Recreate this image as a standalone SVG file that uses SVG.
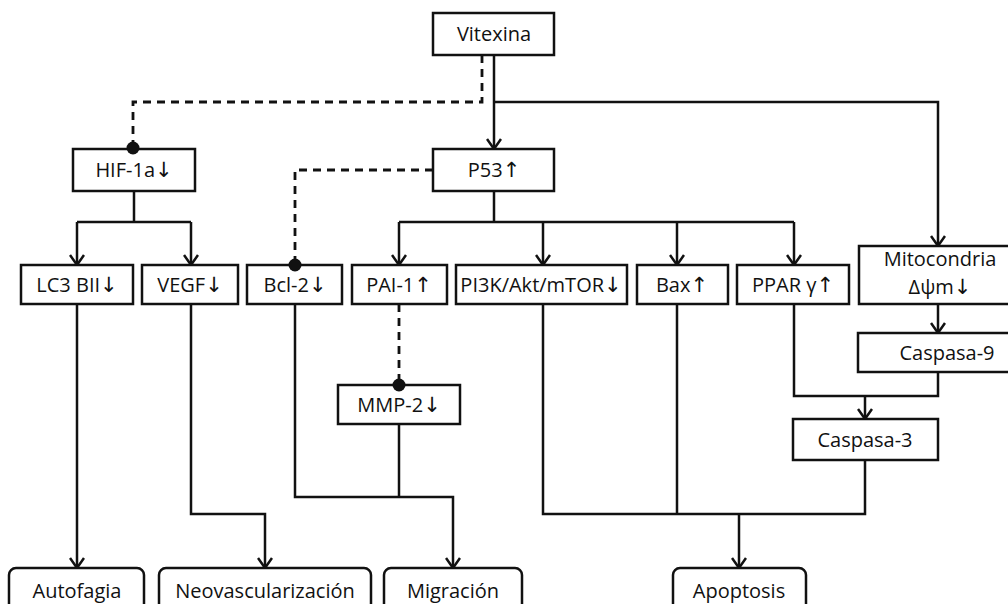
<svg xmlns="http://www.w3.org/2000/svg" width="1008" height="604" viewBox="0 0 1008 604">
<style>
.box{fill:#fff;stroke:#111;stroke-width:2.5}
.t{font-family:"Open Sans","Liberation Sans",sans-serif;font-size:20px;fill:#111;text-anchor:middle}
.ar{font-family:"DejaVu Sans",sans-serif;font-size:21px;fill:#111}
.c{fill:none;stroke:#111;stroke-width:2.5}
.a{marker-end:url(#arr)}
.d{fill:none;stroke:#111;stroke-width:2.8;stroke-dasharray:8 6}
.dot{fill:#111}
</style>
<defs>
<marker id="arr" viewBox="0 0 12 16" refX="11" refY="8" markerWidth="12" markerHeight="16" markerUnits="userSpaceOnUse" orient="auto">
<path d="M1,1 L11,8 L1,15" fill="none" stroke="#111" stroke-width="2.5"/>
</marker>
</defs>
<rect width="1008" height="604" fill="#fff"/>
<g id="vitexina"><rect class="box" x="433" y="13" width="121" height="42"/><text class="t" x="494" y="41">Vitexina</text></g>
<g id="hif"><rect class="box" x="73" y="149" width="122" height="42"/><text class="t" x="134" y="177">HIF-1a<tspan class="ar">↓</tspan></text></g>
<g id="p53"><rect class="box" x="433" y="149" width="121" height="42"/><text class="t" x="494" y="177">P53<tspan class="ar">↑</tspan></text></g>
<g id="lc3"><rect class="box" x="21" y="265" width="112" height="39"/><text class="t" x="77" y="292">LC3 BII<tspan class="ar">↓</tspan></text></g>
<g id="vegf"><rect class="box" x="142" y="265" width="96" height="39"/><text class="t" x="190" y="292">VEGF<tspan class="ar">↓</tspan></text></g>
<g id="bcl2"><rect class="box" x="247" y="265" width="95" height="39"/><text class="t" x="295" y="292">Bcl-2<tspan class="ar">↓</tspan></text></g>
<g id="pai1"><rect class="box" x="352" y="265" width="95" height="39"/><text class="t" x="399" y="292">PAI-1<tspan class="ar">↑</tspan></text></g>
<g id="pi3k"><rect class="box" x="456" y="265" width="171" height="39"/><text class="t" x="541" y="292">PI3K/Akt/mTOR<tspan class="ar">↓</tspan></text></g>
<g id="bax"><rect class="box" x="637" y="265" width="91" height="39"/><text class="t" x="682" y="292">Bax<tspan class="ar">↑</tspan></text></g>
<g id="ppar"><rect class="box" x="737" y="265" width="112" height="39"/><text class="t" x="793" y="292">PPAR γ<tspan class="ar">↑</tspan></text></g>
<g id="mito"><rect class="box" x="859" y="246" width="165" height="58"/><text class="t" x="940" y="266">Mitocondria</text><text class="t" x="940" y="294">Δψm<tspan class="ar">↓</tspan></text></g>
<g id="casp9"><rect class="box" x="858" y="333" width="165" height="39"/><text class="t" x="947" y="360">Caspasa-9</text></g>
<g id="mmp2"><rect class="box" x="338" y="385" width="122" height="39"/><text class="t" x="399" y="412">MMP-2<tspan class="ar">↓</tspan></text></g>
<g id="casp3"><rect class="box" x="793" y="419" width="145" height="41"/><text class="t" x="865" y="447">Caspasa-3</text></g>
<g id="autofagia"><rect class="box" x="9" y="568" width="135" height="50" rx="7"/><text class="t" x="77" y="598">Autofagia</text></g>
<g id="neovasc"><rect class="box" x="159" y="568" width="212" height="50" rx="7"/><text class="t" x="265" y="598">Neovascularización</text></g>
<g id="migracion"><rect class="box" x="384" y="568" width="138" height="50" rx="7"/><text class="t" x="453" y="598">Migración</text></g>
<g id="apoptosis"><rect class="box" x="673" y="568" width="133" height="50" rx="7"/><text class="t" x="739" y="598">Apoptosis</text></g>
<g id="connectors">
<path class="c a" d="M494,55 V149"/>
<path class="c a" d="M494,102 H938 V246"/>
<path class="c" d="M134,191 V222 M77,222 H191"/>
<path class="c a" d="M77,222 V265"/>
<path class="c a" d="M191,222 V265"/>
<path class="c" d="M494,191 V222 M399,222 H794"/>
<path class="c a" d="M399,222 V265"/>
<path class="c a" d="M543,222 V265"/>
<path class="c a" d="M677,222 V265"/>
<path class="c a" d="M794,222 V265"/>
<path class="c a" d="M938,304 V333"/>
<path class="c" d="M938,372 V396 H794 V304"/>
<path class="c a" d="M865,396 V419"/>
<path class="c" d="M865,460 V514 H543 V304 M677,304 V514"/>
<path class="c a" d="M739,514 V568"/>
<path class="c a" d="M77,304 V568"/>
<path class="c a" d="M191,304 V514 H265 V568"/>
<path class="c a" d="M295,304 V497 H453 V568"/>
<path class="c" d="M399,424 V497"/>
<path class="d" d="M482,55 V102 H133 V146"/>
<circle class="dot" cx="133" cy="148" r="6.5"/>
<path class="d" d="M433,170 H295 V262"/>
<circle class="dot" cx="295" cy="265" r="6.5"/>
<path class="d" d="M399,304 V382"/>
<circle class="dot" cx="399" cy="385" r="6.5"/>
</g>
</svg>
